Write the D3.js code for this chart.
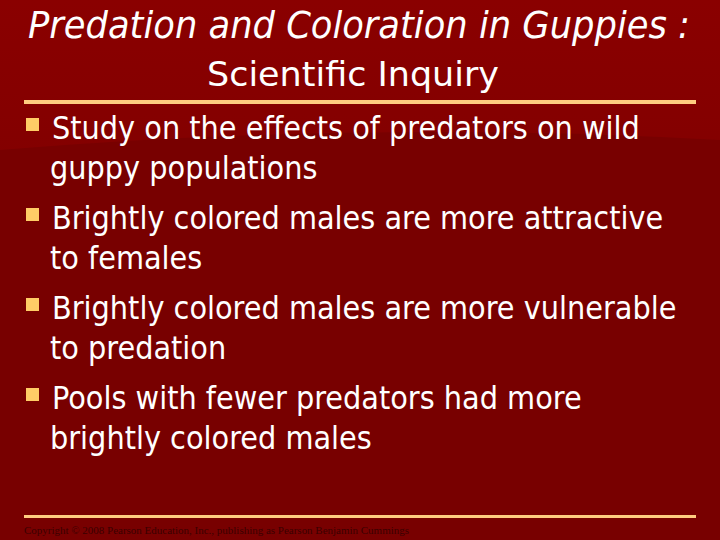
<!DOCTYPE html>
<html><head><meta charset="utf-8">
<script src="https://cdn.jsdelivr.net/npm/d3@7"></script>
<style>body{margin:0;background:#7a0000}</style>
</head><body>
<script>
// slide content
var titleLines = ["Predation and Coloration in Guppies :", "Scientific Inquiry"];
var bullets = [
  ["Study on the effects of predators on wild", "guppy populations"],
  ["Brightly colored males are more attractive", "to females"],
  ["Brightly colored males are more vulnerable", "to predation"],
  ["Pools with fewer predators had more", "brightly colored males"]
];
var footer = "Copyright © 2008 Pearson Education, Inc., publishing as Pearson Benjamin Cummings";

var W = 720, H = 540;
var svg = d3.select("body").append("svg").attr("width", W).attr("height", H);

var grad = svg.append("defs").append("linearGradient").attr("id", "bg")
  .attr("x1", 0).attr("y1", 0).attr("x2", 0).attr("y2", 1);
grad.append("stop").attr("offset", "0%").attr("stop-color", "#8a0000");
grad.append("stop").attr("offset", "100%").attr("stop-color", "#720000");
svg.append("rect").attr("width", W).attr("height", H).attr("fill", "url(#bg)");
// subtle darker swoosh
svg.append("path").attr("d", "M0,150 Q360,120 720,140 L720,540 L0,540 Z").attr("fill", "#780000");

svg.append("text").attr("x", 28).attr("y", 38)
  .attr("font-family", "DejaVu Sans Condensed, DejaVu Sans").attr("font-stretch", "condensed")
  .attr("font-style", "italic").attr("font-size", 38).attr("fill", "#fff")
  .attr("textLength", 662).attr("lengthAdjust", "spacingAndGlyphs")
  .text(titleLines[0]);
svg.append("text").attr("x", 353).attr("y", 86).attr("text-anchor", "middle")
  .attr("font-family", "DejaVu Sans Condensed, DejaVu Sans").attr("font-stretch", "condensed")
  .attr("font-size", 33).attr("fill", "#fff")
  .attr("textLength", 292).attr("lengthAdjust", "spacingAndGlyphs")
  .text(titleLines[1]);

svg.append("rect").attr("x", 24).attr("y", 100).attr("width", 672).attr("height", 4).attr("fill", "#ffcc80");

var y = d3.scaleLinear().domain([0, 1]).range([138, 228]);
var g = svg.selectAll("g.b").data(bullets).enter().append("g")
  .attr("transform", function(d, i) { return "translate(0," + (y(i) - 138) + ")"; });
g.append("rect").attr("x", 26).attr("y", 118).attr("width", 13).attr("height", 13).attr("fill", "#ffcc66");
g.each(function(d) {
  var s = d3.select(this);
  d.forEach(function(line, j) {
    s.append("text").attr("x", j === 0 ? 52 : 50).attr("y", 139 + j * 40)
      .attr("font-family", "DejaVu Sans Condensed, DejaVu Sans").attr("font-stretch", "condensed")
      .attr("font-size", 32).attr("fill", "#fff")
      .text(line);
  });
});

svg.append("rect").attr("x", 24).attr("y", 515).attr("width", 672).attr("height", 3).attr("fill", "#ffcc80");
svg.append("text").attr("x", 24).attr("y", 534)
  .attr("font-family", "Liberation Serif, Times New Roman").attr("font-size", 10)
  .attr("fill", "#3a0000").attr("textLength", 385).attr("lengthAdjust", "spacingAndGlyphs").text(footer);
</script>
</body></html>
